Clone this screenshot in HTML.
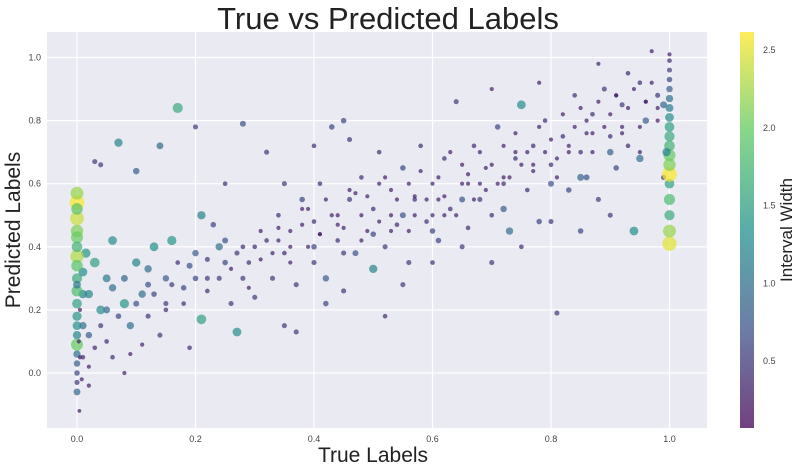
<!DOCTYPE html>
<html><head><meta charset="utf-8"><style>
body{margin:0;background:#fff;width:800px;height:471px;overflow:hidden;font-family:"Liberation Sans","DejaVu Sans",sans-serif}
</style></head><body>
<svg id="chart" width="800" height="471" xmlns="http://www.w3.org/2000/svg">
<defs>
<linearGradient id="vir" x1="0" y1="1" x2="0" y2="0">
<stop offset="0" stop-color="#440154"/><stop offset="0.25" stop-color="#3b528b"/><stop offset="0.5" stop-color="#21918c"/><stop offset="0.75" stop-color="#5ec962"/><stop offset="1" stop-color="#fde725"/>
</linearGradient>
</defs>
<text x="388" y="29" font-size="31" text-anchor="middle" fill="#222">True vs Predicted Labels</text>
<rect x="47" y="32" width="660" height="396" fill="#eaeaf2"/>
<g id="grid"></g>
<g id="points"></g>
<g id="ticks"></g>
<text x="373" y="462" font-size="21" text-anchor="middle" fill="#222">True Labels</text>
<text transform="translate(20,230) rotate(-90)" font-size="21" text-anchor="middle" fill="#222">Predicted Labels</text>
<rect x="740" y="32" width="14" height="396" fill="url(#vir)" opacity="0.75"/>
<g id="cbticks"></g>
<text transform="translate(792,230) rotate(-90)" font-size="17" text-anchor="middle" fill="#222">Interval Width</text>
</svg>
<script>
const xTicks=[0,0.2,0.4,0.6,0.8,1.0];
const yTicks=[0,0.2,0.4,0.6,0.8,1.0];
const cTicks=[0.5,1.0,1.5,2.0,2.5];
const trueVals=[0,0,0,0,0,0,0,0,0,0,0,0,0,0,0,0,0,0,0,0.003,0.005,0.005,0.008,0.004,0,0,0,
0.02,0.03,0.04,0.05,0.06,0.07,0.08,0.09,0.1,0.1,0.11,0.12,0.13,0.14,0.15,0.16,0.17,0.18,0.19,0.2,0.21,0.21,0.22,0.23,0.24,0.25,0.26,0.27,0.28,0.3,0.05,0.06,0.08,0.03,0.04,0.12,0.14,0.18,0.2,0.32,0.09,0.11,0.15,0.22,0.17,0.19,
0.32,0.33,0.34,0.35,0.36,0.37,0.38,0.39,0.4,0.4,0.41,0.42,0.43,0.44,0.45,0.46,0.47,0.48,0.49,0.5,0.5,0.51,0.52,0.53,0.54,0.55,0.56,0.57,0.58,0.59,0.6,0.61,0.62,0.63,0.64,0.65,0.66,0.67,0.68,0.69,0.7,0.71,0.72,0.73,0.74,0.75,0.76,0.77,0.78,0.79,0.8,0.81,0.82,0.83,0.84,0.85,0.86,0.87,0.88,0.89,0.9,0.91,0.92,0.93,0.94,0.95,0.96,0.97,0.98,0.99,
0.35,0.37,0.42,0.45,0.52,0.3,0.28,0.25,0.35,0.4,0.43,0.46,0.55,0.6,0.65,0.7,0.75,0.8,0.85,0.9,0.88,0.93,0.78,0.7,
0.31,0.36,0.41,0.44,0.48,0.53,0.57,0.62,0.66,0.72,0.77,0.83,0.87,0.92,0.96,0.26,0.29,0.34,0.38,0.47,0.51,0.56,0.61,0.68,0.74,0.81,0.86,0.91,0.95,0.98,
1,1,1,1,1,1,1,1,1,1,1,1,1,1,1,1,1,1,1,0.995,0.99];
const predVals=[0.54,0.57,0.49,0.45,0.43,0.37,0.34,0.30,0.26,0.22,0.18,0.15,0.12,0.09,0.06,0.03,0.0,-0.03,-0.06,0.10,0.2,0.05,-0.02,-0.12,0.4,0.28,0.52,
0.25,0.35,0.2,0.3,0.42,0.73,0.22,0.15,0.35,0.64,0.25,0.28,0.4,0.72,0.3,0.42,0.84,0.27,0.34,0.38,0.5,0.17,0.3,0.47,0.4,0.35,0.22,0.13,0.79,0.4,0.1,0.05,0.0,0.67,0.66,0.18,0.12,0.22,0.78,0.7,0.06,0.09,0.2,0.26,0.35,0.08,
0.42,0.3,0.5,0.38,0.45,0.28,0.55,0.4,0.48,0.35,0.6,0.3,0.5,0.42,0.8,0.55,0.38,0.62,0.45,0.52,0.33,0.7,0.4,0.58,0.47,0.65,0.35,0.55,0.72,0.48,0.6,0.42,0.68,0.52,0.86,0.6,0.46,0.72,0.55,0.65,0.5,0.78,0.6,0.45,0.68,0.85,0.58,0.72,0.48,0.8,0.66,0.19,0.75,0.58,0.88,0.7,0.62,0.82,0.55,0.9,0.75,0.65,0.85,0.72,0.45,0.92,0.8,1.02,0.88,0.62,
0.15,0.13,0.22,0.26,0.18,0.24,0.3,0.6,0.6,0.72,0.78,0.74,0.28,0.35,0.4,0.35,0.4,0.48,0.45,0.5,0.98,0.95,0.92,0.9,
0.36,0.4,0.44,0.47,0.42,0.5,0.56,0.5,0.63,0.62,0.66,0.7,0.76,0.78,0.86,0.33,0.27,0.46,0.52,0.57,0.6,0.45,0.55,0.6,0.7,0.62,0.8,0.88,0.7,0.84,
0.41,0.45,0.5,0.55,0.6,0.63,0.66,0.69,0.72,0.75,0.78,0.81,0.84,0.87,0.9,0.93,0.96,0.99,1.01,0.7,0.85];
const widthVals=[2.6,2.2,2.4,2.1,2.0,2.3,1.9,1.6,1.8,1.5,1.4,1.3,1.2,2.0,1.0,0.8,0.6,0.5,0.9,0.3,0.3,0.3,0.3,0.2,1.7,1.1,1.9,
1.2,1.5,1.3,1.1,1.3,1.2,1.4,1.0,1.2,0.8,1.0,0.7,1.3,0.9,0.8,1.4,1.6,0.6,0.7,0.8,1.2,1.5,0.5,0.6,1.0,0.6,0.5,1.3,0.7,0.4,0.4,0.4,0.3,0.5,0.5,0.5,0.5,0.4,0.5,0.5,0.3,0.3,0.4,0.4,0.4,0.4,
0.4,0.5,0.4,0.4,0.3,0.5,0.6,0.3,0.4,0.5,0.4,0.8,0.3,0.4,0.6,0.5,0.7,0.4,0.3,0.4,1.2,0.4,0.5,0.3,0.4,0.6,0.5,0.4,0.4,0.4,0.3,0.6,0.4,0.4,0.5,0.3,0.4,0.4,0.5,0.3,0.4,0.6,0.4,1.0,0.4,1.3,0.4,0.4,0.6,0.4,0.4,0.5,0.4,0.6,0.4,0.4,0.7,0.4,0.5,0.5,0.4,0.6,0.5,0.4,1.3,0.4,0.8,0.3,0.5,0.5,
0.5,0.5,0.6,0.5,0.4,0.5,0.5,0.4,0.5,0.4,0.6,0.5,0.5,0.4,0.5,0.5,0.4,0.5,0.6,0.5,0.3,0.4,0.3,0.3,
0.3,0.3,0.3,0.3,0.3,0.3,0.3,0.3,0.3,0.3,0.3,0.3,0.3,0.3,0.3,0.3,0.3,0.3,0.3,0.3,0.3,0.3,0.3,0.3,0.3,0.3,0.3,0.3,0.3,0.3,
2.5,2.2,1.6,1.8,1.5,2.6,2.1,2.0,1.7,1.6,1.5,1.3,1.1,1.0,0.8,0.6,0.5,0.4,0.3,1.2,0.9];
const extraTrue=[0.01,0.01,0.01,0.02,0.01,0.02,0.015,0.02,0.03,0.04,0.05,0.06,0.07,0.08,0.1,0.12,0.13,0.15,0.16,0.2,0.22,0.24,0.25,0.27,0.28,0.29,
0.31,0.33,0.34,0.36,0.38,0.39,0.41,0.42,0.44,0.45,0.46,0.48,0.49,0.51,0.52,0.53,0.54,0.56,0.57,0.58,0.59,0.6,0.61,0.62,0.63,0.64,0.65,0.66,0.67,0.68,0.69,0.7,0.71,0.72,0.73,0.74,0.75,0.76,0.77,0.78,0.79,0.8,0.81,0.82,0.83,0.84,0.85,0.86,0.87,0.88,0.89,0.9,0.91,0.92,0.93,0.94,0.95,0.96,0.97,0.98,
0.5,0.55,0.6,0.72,0.8,0.85,0.9,0.95,0.4,0.45,0.65];
const extraPred=[0.15,0.25,0.05,-0.04,0.32,0.12,0.38,0.02,0.08,0.15,0.2,0.27,0.18,0.3,0.22,0.33,0.25,0.22,0.28,0.3,0.36,0.3,0.42,0.38,0.4,0.35,
0.45,0.38,0.42,0.35,0.47,0.52,0.44,0.55,0.5,0.46,0.58,0.5,0.56,0.48,0.62,0.45,0.55,0.6,0.5,0.64,0.55,0.5,0.62,0.56,0.7,0.5,0.66,0.6,0.55,0.7,0.58,0.66,0.6,0.72,0.62,0.76,0.66,0.7,0.64,0.78,0.7,0.74,0.68,0.82,0.72,0.78,0.84,0.76,0.7,0.86,0.78,0.82,0.88,0.76,0.84,0.9,0.78,0.86,0.92,0.8,
0.44,0.5,0.45,0.52,0.6,0.62,0.7,0.68,0.4,0.38,0.55];
const extraWidth=[1.0,1.2,0.4,0.3,1.3,0.8,1.4,0.3,0.4,0.5,0.9,1.0,0.6,0.9,0.7,1.0,0.6,0.5,0.5,0.6,0.5,0.5,0.7,0.5,0.4,0.4,
0.3,0.3,0.3,0.3,0.3,0.3,0.3,0.3,0.3,0.3,0.3,0.3,0.3,0.3,0.3,0.3,0.3,0.3,0.3,0.3,0.3,0.3,0.3,0.3,0.3,0.3,0.3,0.3,0.3,0.3,0.3,0.3,0.3,0.3,0.3,0.3,0.3,0.3,0.3,0.3,0.3,0.3,0.3,0.3,0.3,0.3,0.3,0.3,0.3,0.3,0.3,0.3,0.3,0.3,0.3,0.3,0.3,0.3,0.3,0.3,
0.6,0.7,0.6,0.8,0.7,0.9,0.8,1.0,0.6,0.5,0.7];

const NS='http://www.w3.org/2000/svg';
const xS=v=>77+v*592.5, yS=v=>373-v*315.5;
const cS=v=>361-(v-0.5)*155.5;
const stops=[[68,1,84],[59,82,139],[33,145,140],[94,201,98],[253,231,37]];
function vir(w){let t=Math.max(0,Math.min(1,(w-0.07)/2.54))*4;let i=Math.min(3,Math.floor(t)),f=t-i;
return 'rgb('+stops[i].map((c,k)=>Math.round(c+(stops[i+1][k]-c)*f)).join(',')+')';}
const grid=document.getElementById('grid'),ticks=document.getElementById('ticks'),pts=document.getElementById('points'),cb=document.getElementById('cbticks');
xTicks.forEach(v=>{const l=document.createElementNS(NS,'line');


l.setAttribute('x1',xS(v));l.setAttribute('x2',xS(v));l.setAttribute('y1',32);l.setAttribute('y2',428);l.setAttribute('stroke','#fff');l.setAttribute('stroke-width','1.2');grid.appendChild(l);
const t=document.createElementNS(NS,'text');


t.setAttribute('x',xS(v));t.setAttribute('y',442);t.setAttribute('font-size','9');t.setAttribute('text-anchor','middle');t.setAttribute('fill','#444');t.textContent=v.toFixed(1);ticks.appendChild(t);});
yTicks.forEach(v=>{const l=document.createElementNS(NS,'line');


l.setAttribute('x1',47);l.setAttribute('x2',707);l.setAttribute('y1',yS(v));l.setAttribute('y2',yS(v));l.setAttribute('stroke','#fff');l.setAttribute('stroke-width','1.2');grid.appendChild(l);
const t=document.createElementNS(NS,'text');


t.setAttribute('x',41);t.setAttribute('y',yS(v)+3);t.setAttribute('font-size','9');t.setAttribute('text-anchor','end');t.setAttribute('fill','#444');t.textContent=v.toFixed(1);ticks.appendChild(t);});
cTicks.forEach(v=>{const t=document.createElementNS(NS,'text');


t.setAttribute('x',763);t.setAttribute('y',cS(v)+3);t.setAttribute('font-size','9');t.setAttribute('fill','#444');t.textContent=v.toFixed(1);cb.appendChild(t);});
function drawPoint(x,y,w){const c=document.createElementNS(NS,'circle');


c.setAttribute('cx',xS(x));c.setAttribute('cy',yS(y));c.setAttribute('r',(1.4+w*2.3).toFixed(2));c.setAttribute('fill',vir(w));c.setAttribute('fill-opacity','0.7');pts.appendChild(c);}
extraTrue.forEach((x,i)=>drawPoint(x,extraPred[i],extraWidth[i]));
trueVals.forEach((x,i)=>drawPoint(x,predVals[i],widthVals[i]));
</script>
</body></html>
